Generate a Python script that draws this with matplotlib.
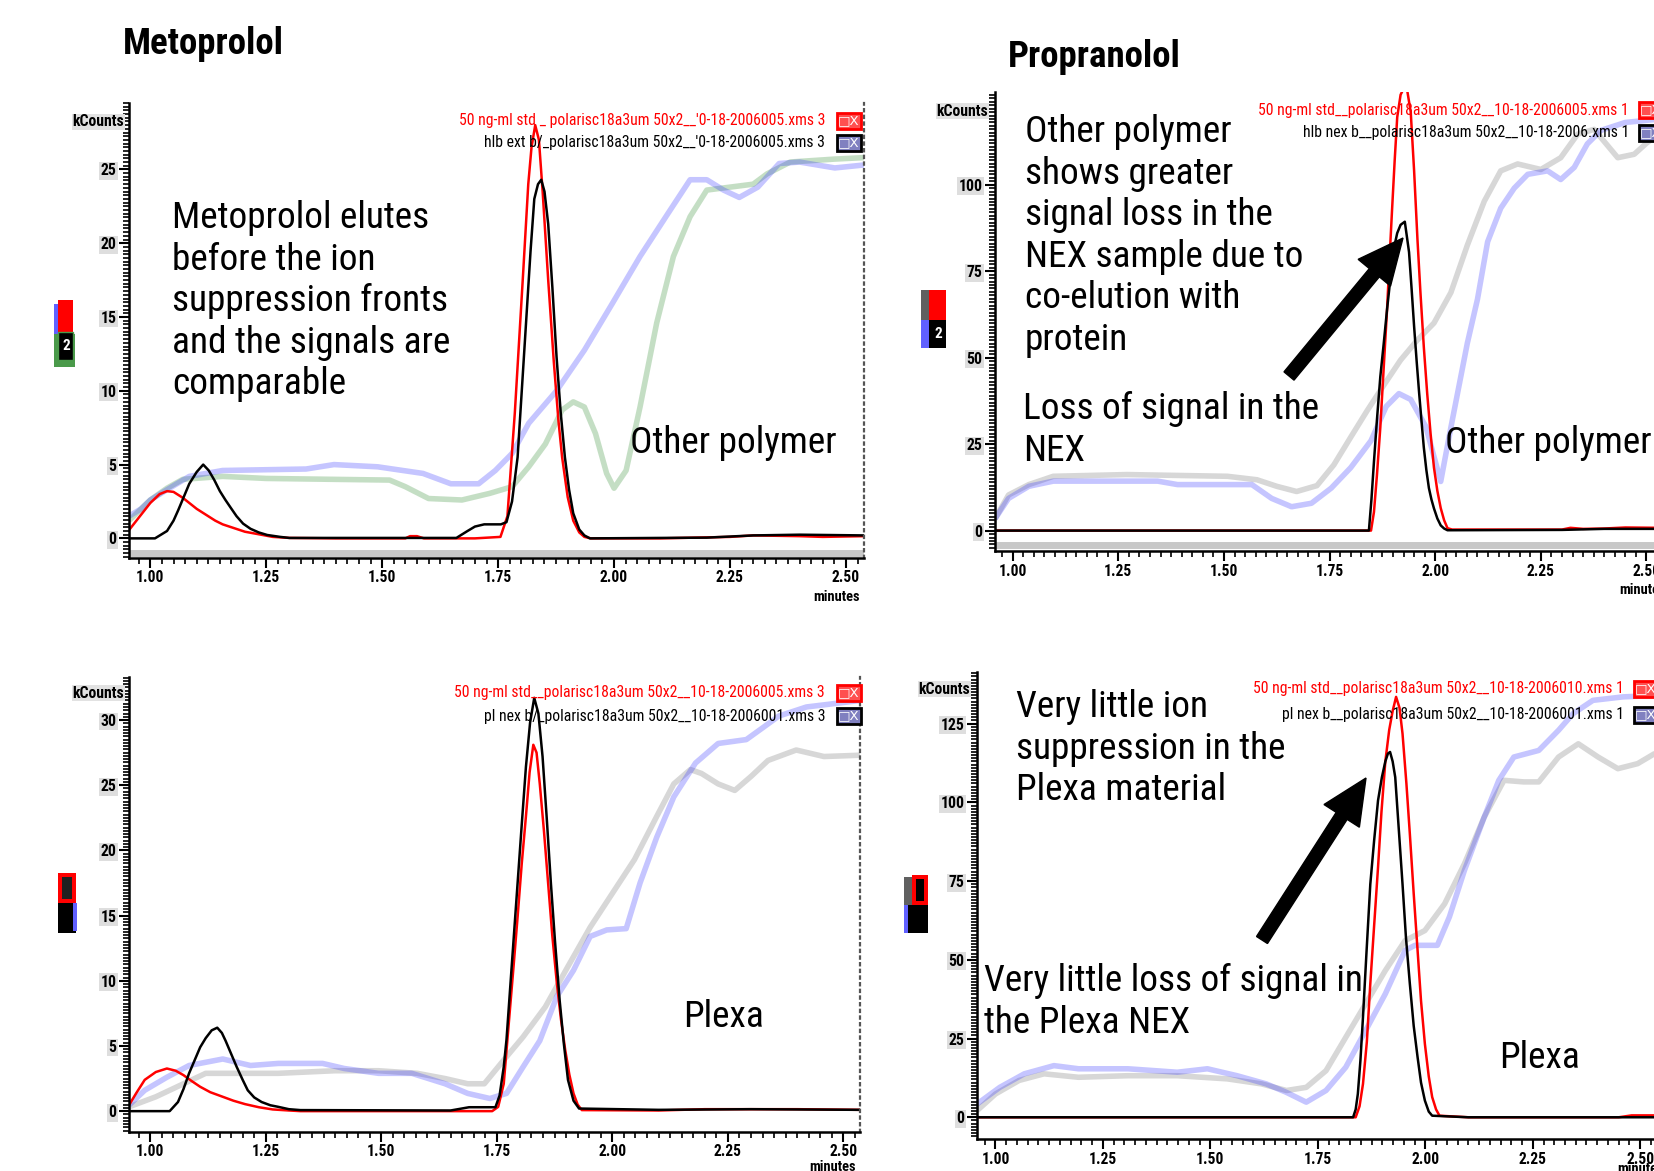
import os
import matplotlib
matplotlib.use("Agg")
import matplotlib.pyplot as plt
from matplotlib import font_manager as fm
from matplotlib.font_manager import FontProperties
from matplotlib.patches import Rectangle, FancyArrow
from matplotlib.ticker import MultipleLocator
from matplotlib.transforms import IdentityTransform

W, H = 1654, 1171

# ---- top left: Metoprolol, other polymer ----
tl_red_x = [0.954, 0.98, 1.0, 1.02, 1.036, 1.05, 1.07, 1.084, 1.10, 1.12, 1.14, 1.156, 1.18, 1.204, 1.23,
            1.264, 1.30, 1.40, 1.55, 1.56, 1.575, 1.59, 1.70, 1.755, 1.77, 1.786, 1.804, 1.815, 1.822,
            1.83, 1.838, 1.846, 1.858, 1.87, 1.88, 1.888, 1.90, 1.912, 1.925, 1.936, 1.95, 2.10, 2.25,
            2.30, 2.40, 2.45, 2.539]
tl_red_y = [0.56, 1.6, 2.4, 3.0, 3.2, 3.15, 2.75, 2.4, 2.0, 1.6, 1.2, 0.95, 0.7, 0.45, 0.3,
            0.1, 0.03, 0.0, 0.0, 0.15, 0.15, 0.0, 0.0, 0.1, 1.5, 8.5, 18.0, 24.0, 26.5,
            28.0, 27.0, 23.5, 17.5, 12.0, 8.0, 5.5, 2.8, 1.2, 0.4, 0.1, 0.0, 0.0, 0.1,
            0.2, 0.15, 0.1, 0.15]
tl_blk_x = [0.954, 1.01, 1.036, 1.05, 1.06, 1.072, 1.084, 1.10, 1.114, 1.126, 1.138, 1.15, 1.162, 1.175,
            1.186, 1.20, 1.216, 1.234, 1.252, 1.28, 1.30, 1.66, 1.684, 1.70, 1.72, 1.756, 1.768, 1.78,
            1.792, 1.80, 1.81, 1.82, 1.828, 1.836, 1.843, 1.85, 1.858, 1.867, 1.876, 1.885, 1.894,
            1.903, 1.912, 1.925, 1.936, 1.948, 2.2, 2.3, 2.4, 2.539]
tl_blk_y = [0.0, 0.0, 0.5, 1.2, 1.9, 2.8, 3.7, 4.5, 5.0, 4.6, 3.95, 3.2, 2.6, 2.0,
            1.5, 1.0, 0.65, 0.4, 0.23, 0.1, 0.03, 0.03, 0.5, 0.8, 0.95, 0.95, 1.1, 2.5,
            5.5, 9.5, 14.5, 19.5, 23.0, 24.0, 24.3, 23.5, 21.3, 17.0, 12.3, 8.5, 5.5,
            3.3, 1.7, 0.6, 0.2, 0.0, 0.05, 0.2, 0.25, 0.2]
tl_bg1_x = [0.954, 0.98, 1.0, 1.036, 1.084, 1.156, 1.336, 1.396, 1.49, 1.588, 1.648, 1.708, 1.744, 1.78,
            1.816, 1.876, 1.936, 1.996, 2.056, 2.116, 2.164, 2.2, 2.236, 2.27, 2.31, 2.356, 2.4, 2.476, 2.539]
tl_bg1_y = [1.5, 2.0, 2.6, 3.3, 4.2, 4.6, 4.7, 5.0, 4.85, 4.4, 3.7, 3.7, 4.6, 5.75,
            7.8, 10.0, 12.75, 15.9, 19.1, 22.0, 24.3, 24.3, 23.6, 23.1, 23.8, 25.4, 25.5, 25.1, 25.3]
tl_bg2_x = [0.954, 1.0, 1.036, 1.07, 1.156, 1.25, 1.516, 1.55, 1.6, 1.672, 1.732, 1.78, 1.816, 1.852,
            1.888, 1.912, 1.936, 1.96, 1.984, 2.0, 2.026, 2.056, 2.092, 2.128, 2.164, 2.2, 2.25, 2.3,
            2.33, 2.38, 2.476, 2.539]
tl_bg2_y = [1.2, 2.6, 3.4, 4.0, 4.2, 4.06, 3.95, 3.5, 2.7, 2.6, 3.05, 3.5, 4.85, 6.4,
            8.7, 9.25, 8.9, 7.1, 4.4, 3.4, 4.6, 8.9, 14.6, 19.1, 21.8, 23.6, 23.8, 24.0,
            24.7, 25.5, 25.7, 25.8]

# ---- top right: Propranolol, other polymer ----
tr_red_x = [0.958, 1.5, 1.848, 1.855, 1.862, 1.87, 1.878, 1.886, 1.892, 1.898, 1.904, 1.91, 1.918, 1.926,
            1.934, 1.942, 1.95, 1.958, 1.965, 1.973, 1.981, 1.989, 1.997, 2.005, 2.013, 2.021, 2.029,
            2.04, 2.3, 2.32, 2.35, 2.4, 2.45, 2.532]
tr_red_y = [0.0, 0.0, 0.0, 5.4, 16.0, 29.8, 47.0, 64.0, 79.0, 93.2, 107.0, 119.5, 126.0, 128.0,
            127.0, 121.0, 104.0, 84.0, 68.8, 53.0, 39.6, 28.0, 18.2, 11.5, 6.5, 3.0, 0.7,
            0.3, 0.3, 0.8, 0.5, 0.6, 0.9, 0.8]
tr_blk_x = [0.958, 1.5, 1.843, 1.849, 1.855, 1.862, 1.87, 1.878, 1.886, 1.894, 1.902, 1.91, 1.918, 1.928,
            1.938, 1.944, 1.95, 1.956, 1.962, 1.968, 1.973, 1.979, 1.985, 1.991, 1.997, 2.005, 2.013,
            2.021, 2.029, 2.3, 2.4, 2.532]
tr_blk_y = [0.0, 0.0, 0.0, 9.0, 20.0, 32.0, 44.5, 54.0, 64.0, 73.0, 81.5, 86.0, 88.4, 89.3,
            80.5, 70.0, 59.0, 49.0, 39.6, 31.0, 24.0, 17.5, 12.3, 9.0, 6.4, 3.5, 1.5,
            0.6, 0.1, 0.2, 0.5, 0.5]
tr_bg1_x = [0.958, 0.99, 1.038, 1.096, 1.343, 1.39, 1.566, 1.613, 1.66, 1.707, 1.754, 1.80, 1.848, 1.884,
            1.914, 1.942, 1.978, 2.013, 2.037, 2.076, 2.1, 2.124, 2.155, 2.187, 2.219, 2.266, 2.297,
            2.329, 2.36, 2.392, 2.45, 2.532]
tr_bg1_y = [3.4, 9.3, 12.8, 14.3, 14.3, 13.3, 13.3, 9.3, 6.9, 7.9, 12.3, 18.2, 26.0, 35.9,
            39.6, 37.9, 30.0, 14.2, 29.8, 54.2, 66.9, 83.5, 93.2, 99.0, 103.0, 104.0, 101.5,
            105.0, 111.8, 115.7, 118.0, 119.0]
tr_bg2_x = [0.958, 0.99, 1.038, 1.096, 1.27, 1.508, 1.578, 1.625, 1.672, 1.72, 1.76, 1.80, 1.839, 1.878,
            1.918, 1.957, 1.997, 2.037, 2.076, 2.116, 2.155, 2.195, 2.25, 2.297, 2.337, 2.376, 2.432,
            2.471, 2.5, 2.532]
tr_bg2_y = [3.4, 10.3, 13.3, 15.7, 16.2, 15.7, 14.7, 12.8, 11.3, 13.0, 19.0, 27.0, 34.7, 42.0,
            49.3, 55.0, 60.0, 68.8, 82.5, 95.2, 104.0, 106.0, 104.4, 107.8, 114.6, 116.0, 107.8,
            108.8, 112.0, 115.0]

# ---- bottom left: Metoprolol, Plexa ----
bl_red_x = [0.954, 0.97, 0.988, 1.012, 1.036, 1.055, 1.072, 1.09, 1.108, 1.13, 1.157, 1.18, 1.205, 1.235,
            1.265, 1.3, 1.325, 1.74, 1.753, 1.765, 1.777, 1.786, 1.795, 1.804, 1.813, 1.821, 1.829,
            1.836, 1.843, 1.852, 1.861, 1.87, 1.88, 1.889, 1.898, 1.907, 1.916, 1.925, 1.934, 2.1,
            2.2, 2.3, 2.4, 2.536]
bl_red_y = [0.46, 1.4, 2.4, 3.0, 3.27, 3.1, 2.76, 2.3, 1.87, 1.45, 1.1, 0.8, 0.54, 0.3,
            0.13, 0.05, 0.0, 0.0, 0.33, 2.1, 7.2, 11.0, 14.9, 19.0, 22.6, 26.0, 28.1,
            27.5, 25.1, 21.5, 17.5, 13.5, 9.8, 7.0, 4.7, 2.8, 1.36, 0.5, 0.08, 0.05,
            0.15, 0.15, 0.15, 0.1]
bl_blk_x = [0.954, 1.042, 1.06, 1.072, 1.084, 1.096, 1.108, 1.12, 1.133, 1.145, 1.155, 1.163, 1.175, 1.187,
            1.2, 1.211, 1.225, 1.241, 1.26, 1.277, 1.3, 1.325, 1.65, 1.69, 1.72, 1.747, 1.756, 1.765,
            1.771, 1.777, 1.786, 1.795, 1.804, 1.813, 1.822, 1.831, 1.84, 1.849, 1.858, 1.867, 1.876,
            1.886, 1.895, 1.904, 1.916, 1.928, 2.1, 2.3, 2.536]
bl_blk_y = [0.0, 0.0, 0.7, 1.7, 2.9, 3.9, 4.9, 5.6, 6.2, 6.4, 6.0, 5.4, 4.4, 3.4,
            2.4, 1.6, 1.05, 0.7, 0.45, 0.33, 0.15, 0.08, 0.05, 0.3, 0.3, 0.3, 1.2, 3.4,
            5.5, 8.5, 13.0, 17.5, 22.0, 26.4, 29.8, 31.7, 30.5, 27.2, 22.5, 17.5, 13.0,
            8.5, 5.2, 2.4, 0.8, 0.2, 0.1, 0.15, 0.1]
bl_bg1_x = [0.954, 0.988, 1.036, 1.084, 1.157, 1.217, 1.277, 1.373, 1.42, 1.494, 1.566, 1.638, 1.687, 1.735,
            1.771, 1.807, 1.843, 1.88, 1.916, 1.952, 1.988, 2.03, 2.06, 2.096, 2.133, 2.18, 2.229,
            2.29, 2.337, 2.36, 2.42, 2.536]
bl_bg1_y = [0.46, 1.6, 2.6, 3.5, 4.0, 3.5, 3.66, 3.66, 3.27, 2.9, 2.9, 2.1, 1.36, 0.97,
            1.36, 3.4, 5.4, 8.8, 10.8, 13.4, 13.9, 14.0, 17.5, 21.0, 24.1, 26.7, 28.2,
            28.5, 29.7, 30.3, 31.0, 31.5]
bl_bg2_x = [0.954, 1.012, 1.072, 1.12, 1.277, 1.4, 1.494, 1.578, 1.638, 1.687, 1.723, 1.759, 1.807, 1.855,
            1.904, 1.952, 2.0, 2.048, 2.096, 2.133, 2.169, 2.193, 2.229, 2.265, 2.301, 2.337, 2.398,
            2.458, 2.536]
bl_bg2_y = [0.33, 1.1, 2.1, 2.9, 2.9, 3.1, 3.1, 2.9, 2.5, 2.1, 2.1, 3.66, 5.7, 8.0,
            11.1, 14.1, 16.7, 19.3, 22.6, 25.1, 26.2, 25.9, 25.1, 24.6, 25.7, 26.9, 27.7,
            27.2, 27.3]

# ---- bottom right: Propranolol, Plexa ----
br_red_x = [0.957, 1.5, 1.838, 1.847, 1.855, 1.864, 1.872, 1.881, 1.89, 1.898, 1.907, 1.916, 1.924, 1.932,
            1.94, 1.947, 1.956, 1.964, 1.973, 1.982, 1.99, 1.999, 2.008, 2.016, 2.025, 2.033, 2.1,
            2.45, 2.48, 2.546]
br_red_y = [0.0, 0.0, 0.0, 3.5, 10.6, 24.0, 42.4, 61.0, 79.4, 97.0, 113.0, 123.0, 129.0, 133.5,
            130.0, 121.8, 106.0, 90.0, 71.0, 53.0, 37.0, 23.3, 13.0, 6.4, 2.5, 0.5, 0.0,
            0.0, 0.6, 0.6]
br_blk_x = [0.957, 1.5, 1.832, 1.838, 1.843, 1.849, 1.855, 1.863, 1.872, 1.881, 1.89, 1.899, 1.907, 1.913,
            1.918, 1.924, 1.93, 1.938, 1.947, 1.955, 1.964, 1.973, 1.982, 1.99, 1.999, 2.008, 2.016,
            2.1, 2.546]
br_blk_y = [0.0, 0.0, 0.0, 2.5, 7.4, 18.0, 31.8, 52.0, 74.0, 88.0, 100.6, 108.0, 113.0, 115.5,
            116.0, 113.0, 108.0, 92.0, 74.0, 57.0, 42.4, 29.0, 19.1, 11.0, 5.3, 1.8, 0.5,
            0.0, 0.0]
br_bg1_x = [0.957, 1.01, 1.067, 1.136, 1.193, 1.308, 1.423, 1.493, 1.562, 1.63, 1.677, 1.723, 1.769, 1.815,
            1.861, 1.907, 1.953, 1.976, 2.028, 2.056, 2.091, 2.137, 2.171, 2.206, 2.264, 2.31, 2.344,
            2.39, 2.46, 2.546]
br_bg1_y = [4.2, 9.5, 13.8, 16.4, 15.4, 15.4, 14.3, 15.4, 13.2, 10.6, 7.9, 4.8, 8.5, 15.9,
            27.5, 39.2, 53.0, 54.6, 54.6, 63.6, 78.4, 95.3, 107.0, 114.4, 116.5, 122.9, 128.2,
            132.4, 133.5, 134.0]
br_bg2_x = [0.957, 1.0, 1.055, 1.113, 1.193, 1.308, 1.423, 1.539, 1.619, 1.677, 1.723, 1.769, 1.815, 1.861,
            1.907, 1.953, 1.999, 2.045, 2.091, 2.137, 2.183, 2.229, 2.264, 2.31, 2.356, 2.402, 2.448,
            2.494, 2.546]
br_bg2_y = [2.1, 7.4, 11.7, 13.8, 12.7, 13.2, 13.2, 12.2, 10.6, 8.5, 9.5, 14.8, 25.4, 36.0,
            46.6, 56.1, 59.3, 67.8, 80.5, 95.3, 107.0, 106.5, 106.5, 114.4, 118.6, 114.4, 110.7,
            112.3, 116.5]

x_ticks = [1.00, 1.25, 1.50, 1.75, 2.00, 2.25, 2.50]
tl_yticks = [0, 5, 10, 15, 20, 25]
tr_yticks = [0, 25, 50, 75, 100]
bl_yticks = [0, 5, 10, 15, 20, 25, 30]
br_yticks = [0, 25, 50, 75, 100, 125]
legend_tl = ["50 ng-ml std _ polarisc18a3um 50x2__'0-18-2006005.xms 3",
             "hlb ext b/_polarisc18a3um 50x2__'0-18-2006005.xms 3"]
legend_tr = ["50 ng-ml std__polarisc18a3um 50x2__10-18-2006005.xms 1",
             "hlb nex b__polarisc18a3um 50x2__10-18-2006.xms 1"]
legend_bl = ["50 ng-ml std__polarisc18a3um 50x2__10-18-2006005.xms 3",
             "pl nex b/_polarisc18a3um 50x2__10-18-2006001.xms 3"]
legend_br = ["50 ng-ml std__polarisc18a3um 50x2__10-18-2006010.xms 1",
             "pl nex b__polarisc18a3um 50x2__10-18-2006001.xms 1"]


# pick a narrow face if one is installed
def pick_font(keys):
    files = [f.fname for f in fm.fontManager.ttflist]
    for key in keys:
        for f in files:
            if os.path.basename(f).lower().replace(' ', '') == key.lower():
                return f
    return None


reg_file = pick_font(['LiberationSansNarrow-Regular.ttf', 'RobotoCondensed-Regular.ttf',
                      'DejaVuSansCondensed.ttf', 'LiberationSans-Regular.ttf', 'DejaVuSans.ttf'])
bold_file = pick_font(['LiberationSansNarrow-Bold.ttf', 'RobotoCondensed-Bold.ttf',
                       'DejaVuSansCondensed-Bold.ttf', 'LiberationSans-Bold.ttf', 'DejaVuSans-Bold.ttf'])


def fp(size, bold=False):
    f = bold_file if bold else reg_file
    if f is None:
        return FontProperties(size=size, weight='bold' if bold else 'normal')
    return FontProperties(fname=f, size=size)


fig = plt.figure(figsize=(W / 100, H / 100), dpi=100)
renderer = fig.canvas.get_renderer()


def fit(s, target_px, bold=False):
    t = fig.text(0, 0, s, fontproperties=fp(20, bold))
    w = t.get_window_extent(renderer=renderer).width
    t.remove()
    return 20 * target_px / w


note_size = fit('Metoprolol elutes', 257)
leg_size = fit(legend_bl[0], 372)
title_size = fit('Metoprolol', 161, bold=True)
tick_size = fit('1.00', 28, bold=True)
ytick_size = fit('25', 16, bold=True)
cap_size = fit('kCounts', 52, bold=True)


def fx(x):
    return x / W


def fy(y):
    return 1 - y / H


def make_axes(left, right, top, bottom):
    return fig.add_axes([fx(left), fy(bottom), (right - left) / W, (bottom - top) / H])


def style(ax, xlim, ylim, yticks, yminor, right_dotted):
    ax.set_xlim(*xlim)
    ax.set_ylim(*ylim)
    ax.set_xticks(x_ticks)
    ax.set_xticklabels(['%.2f' % t for t in x_ticks])
    ax.set_yticks(yticks)
    ax.set_yticklabels([str(t) for t in yticks])
    ax.xaxis.set_minor_locator(MultipleLocator(0.025))
    ax.yaxis.set_minor_locator(MultipleLocator(yminor))
    ax.spines['top'].set_visible(False)
    ax.spines['left'].set_linewidth(1.8)
    ax.spines['bottom'].set_linewidth(1.8)
    if right_dotted:
        ax.spines['right'].set_linestyle((0, (1, 2)))
        ax.spines['right'].set_linewidth(1.6)
        ax.spines['right'].set_color('#555555')
    else:
        ax.spines['right'].set_visible(False)
    ax.tick_params(axis='both', which='major', direction='out', length=7, width=1.5, pad=2)
    ax.tick_params(axis='both', which='minor', direction='out', length=4, width=1.2)
    for lbl in ax.get_xticklabels():
        lbl.set_fontproperties(fp(tick_size, True))
    for lbl in ax.get_yticklabels():
        lbl.set_fontproperties(fp(ytick_size, True))
        lbl.set_bbox(dict(facecolor='#dedede', edgecolor='none', pad=1.0))
    ax.patch.set_alpha(0)


def traces(ax, rx, ry, bx, by, g1x, g1y, g2x, g2y, c1, c2):
    ax.plot(g2x, g2y, color=c2, lw=4, alpha=0.28, solid_capstyle='butt')
    ax.plot(g1x, g1y, color=c1, lw=4, alpha=0.28, solid_capstyle='butt')
    ax.plot(rx, ry, color='#ff0000', lw=1.8)
    ax.plot(bx, by, color='black', lw=1.8)


def legend(lines, xr, y1, y2, box_x):
    fig.text(fx(xr), fy(y1), lines[0], color='#ff0000', ha='right', va='center', fontproperties=fp(leg_size))
    fig.text(fx(xr), fy(y2), lines[1], color='black', ha='right', va='center', fontproperties=fp(leg_size))
    for yy, ec, fc in [(y1, '#ff0000', '#ff5050'), (y2, 'black', '#8080c0')]:
        fig.text(fx(box_x), fy(yy), u'\u25a1X', family='DejaVu Sans', fontsize=9.5, color='white',
                 ha='left', va='center',
                 bbox=dict(facecolor=fc, edgecolor=ec, linewidth=2, pad=0.8))


def chip(x, y, w, h, color, **kw):
    fig.add_artist(Rectangle((x, H - y - h), w, h, facecolor=color, edgecolor=kw.get('ec', 'none'),
                             linewidth=kw.get('lw', 0), transform=IdentityTransform()))


def arrow(x0, y0, x1, y1):
    fig.add_artist(FancyArrow(x0, H - y0, x1 - x0, y0 - y1, width=13, head_width=42, head_length=45,
                              length_includes_head=True, color='black', transform=IdentityTransform()))


def note(x, y, s):
    fig.text(fx(x), fy(y), s, fontproperties=fp(note_size), ha='left', va='top', linespacing=1.2)


# top left
ax = make_axes(129, 864, 103, 558)
ax.axhline(-1.0, color='#c8c8c8', lw=5)
traces(ax, tl_red_x, tl_red_y, tl_blk_x, tl_blk_y, tl_bg1_x, tl_bg1_y, tl_bg2_x, tl_bg2_y, '#3030ff', '#2e8b2e')
style(ax, (0.954, 2.539), (-1.33, 29.5), tl_yticks, 0.25, True)

# top right
ax = make_axes(995, 1660, 92, 551)
ax.axhline(-4.1, color='#c8c8c8', lw=5)
traces(ax, tr_red_x, tr_red_y, tr_blk_x, tr_blk_y, tr_bg1_x, tr_bg1_y, tr_bg2_x, tr_bg2_y, '#3030ff', '#707070')
style(ax, (0.958, 2.532), (-5.9, 126.8), tr_yticks, 1, False)

# bottom left
ax = make_axes(129, 860, 677, 1132)
traces(ax, bl_red_x, bl_red_y, bl_blk_x, bl_blk_y, bl_bg1_x, bl_bg1_y, bl_bg2_x, bl_bg2_y, '#3030ff', '#707070')
style(ax, (0.954, 2.536), (-1.6, 33.3), bl_yticks, 0.25, True)

# bottom right
ax = make_axes(977, 1660, 672, 1139)
traces(ax, br_red_x, br_red_y, br_blk_x, br_blk_y, br_bg1_x, br_bg1_y, br_bg2_x, br_bg2_y, '#3030ff', '#707070')
style(ax, (0.957, 2.546), (-6.9, 141.4), br_yticks, 1, False)

# axis captions
for x, y in [(124, 122), (988, 111), (124, 693), (970, 689)]:
    fig.text(fx(x), fy(y), 'kCounts', ha='right', va='center', fontproperties=fp(cap_size, True),
             bbox=dict(facecolor='#e2e2e2', edgecolor='none', pad=0.5))
for x, y in [(836, 597), (1642, 590), (833, 1167), (1640, 1169)]:
    fig.text(fx(x), fy(y), 'minutes', ha='center', va='center', fontproperties=fp(cap_size * 0.92, True))

legend(legend_tl, 825, 121, 143, 838)
legend(legend_tr, 1629, 110, 133, 1640)
legend(legend_bl, 825, 693, 716, 838)
legend(legend_br, 1624, 689, 715, 1635)

# trace selector chips
chip(54, 304, 6, 30, '#6060ff')
chip(58, 300, 15, 32, '#ff0000')
chip(54, 334, 21, 33, '#4a9a4a')
chip(58, 332, 15, 28, 'black', ec='#4a9a4a', lw=1)
chip(921, 290, 9, 30, '#606060')
chip(929, 290, 17, 30, '#ff0000')
chip(921, 320, 9, 28, '#6060ff')
chip(929, 320, 17, 28, 'black')
chip(58, 873, 18, 30, '#ff0000')
chip(62, 877, 10, 22, '#202020')
chip(58, 903, 18, 30, 'black')
chip(73, 903, 4, 28, '#6060ff')
chip(904, 877, 9, 28, '#606060')
chip(912, 875, 16, 30, '#ff0000')
chip(916, 879, 8, 22, 'black')
chip(904, 905, 6, 28, '#6060ff')
chip(908, 905, 20, 28, 'black')
for x, y in [(66, 346), (938, 334)]:
    fig.text(fx(x), fy(y), '2', color='white', ha='center', va='center', fontproperties=fp(11, True))

# titles
fig.text(fx(123), fy(44), 'Metoprolol', fontproperties=fp(title_size, True), ha='left', va='center')
fig.text(fx(1008), fy(57), 'Propranolol', fontproperties=fp(title_size, True), ha='left', va='center')

# annotations
note(172, 200, 'Metoprolol elutes\nbefore the ion\nsuppression fronts\nand the signals are\ncomparable')
note(630, 425, 'Other polymer')
note(1025, 114, 'Other polymer\nshows greater\nsignal loss in the\nNEX sample due to\nco-elution with\nprotein')
note(1023, 391, 'Loss of signal in the\nNEX')
note(1445, 425, 'Other polymer')
note(683, 999, 'Plexa')
note(1016, 689, 'Very little ion\nsuppression in the\nPlexa material')
note(984, 963, 'Very little loss of signal in\nthe Plexa NEX')
note(1499, 1040, 'Plexa')

arrow(1289, 376, 1403, 238)
arrow(1262, 940, 1366, 778)

fig.savefig('out.png', dpi=100)
